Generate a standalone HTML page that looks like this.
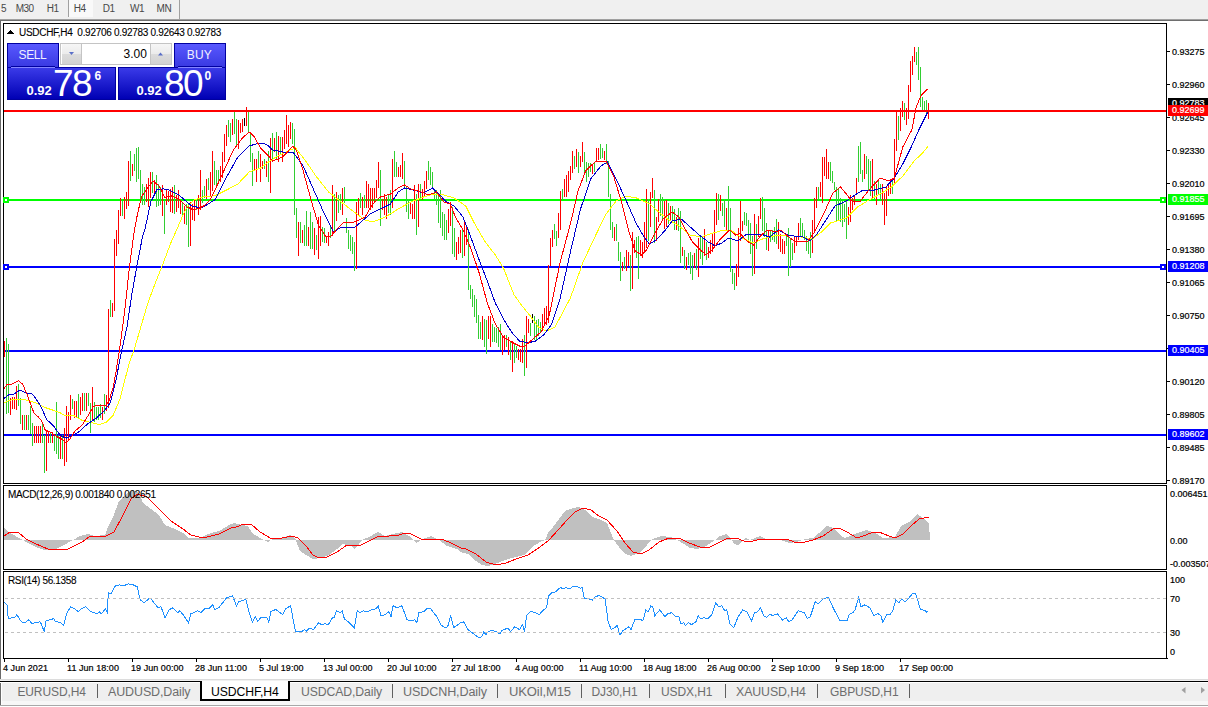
<!DOCTYPE html>
<html><head><meta charset="utf-8">
<style>
*{margin:0;padding:0;box-sizing:border-box}
html,body{width:1208px;height:707px;overflow:hidden;background:#fff;font-family:"Liberation Sans",sans-serif}
.a{position:absolute;white-space:nowrap}
#tb{left:0;top:0;width:1208px;height:19px;background:#f0f0f0}
.tbt{font-size:10px;color:#484848;top:2.6px;line-height:11px;letter-spacing:-0.5px}
.ax{font-size:9px;letter-spacing:0px;color:#000;left:1172px;line-height:10px;-webkit-text-stroke:0.2px #000}
.lb{left:1168px;width:40px;height:11px;color:#fff;font-size:9px;letter-spacing:0px;line-height:11px;padding-left:4px;-webkit-text-stroke:0.2px #fff}
.tl{font-size:9px;letter-spacing:0.05px;color:#000;top:663px;line-height:10px;-webkit-text-stroke:0.2px #000}
.tab{font-size:12px;color:#6d6d6d;top:686px;line-height:13px;letter-spacing:-0.1px}
.sep{top:684px;width:1px;height:14px;background:#606060}
</style></head><body>
<div class="a" id="tb"></div>
<div class="a" style="left:68px;top:0;width:25px;height:17px;background:#f9f9f9;border-left:1px solid #a0a0a0"></div>
<div class="a" style="left:179px;top:0;width:1px;height:19px;background:#a0a0a0"></div>
<div class="a" style="left:0;top:19px;width:1208px;height:1px;background:#a0a0a0"></div>
<div class="a" style="left:0;top:20px;width:1208px;height:1px;background:#6e6e6e"></div>
<div class="a tbt" style="left:1px">5</div>
<div class="a tbt" style="left:15.7px">M30</div>
<div class="a tbt" style="left:46.8px">H1</div>
<div class="a tbt" style="left:73.7px">H4</div>
<div class="a tbt" style="left:102.8px">D1</div>
<div class="a tbt" style="left:130.1px">W1</div>
<div class="a tbt" style="left:156.6px">MN</div>

<div class="a" style="left:0;top:21px;width:1px;height:658px;background:#6a6a6a"></div>

<!-- frames -->
<div class="a" style="left:3px;top:23px;width:1164px;height:461px;border:1px solid #000"></div>
<div class="a" style="left:3px;top:485px;width:1164px;height:85px;border:1px solid #000"></div>
<div class="a" style="left:3px;top:571px;width:1164px;height:88px;border:1px solid #000"></div>

<svg class="a" style="left:0;top:0" width="1208" height="707" viewBox="0 0 1208 707">
<g shape-rendering="crispEdges">
<rect x="4" y="199" width="1162" height="2" fill="#00ff00"/>
<rect x="4" y="266" width="1162" height="2" fill="#0000ff"/>
<rect x="4" y="350" width="1162" height="2" fill="#0000ff"/>
<rect x="4" y="434" width="1162" height="2" fill="#0000ff"/>
<path d="M4.5 341V357M10.5 398V415M12.5 397V409M14.5 397V409M16.5 386V410M22.5 415V430M26.5 415V430M34.5 426V443M36.5 426V443M38.5 426V443M40.5 426V443M46.5 431V471M48.5 432V443M52.5 432V443M60.5 435V459M64.5 428V466M66.5 406V462M68.5 412V440M70.5 395V420M74.5 401V418M76.5 401V418M80.5 397V415M82.5 393V411M86.5 393V411M92.5 387V420M102.5 407V420M106.5 395V411M108.5 309V408M112.5 303V317M114.5 239V311M116.5 230V256M118.5 210V244M120.5 198V216M124.5 197V219M126.5 192V209M128.5 161V206M132.5 164V176M146.5 184V202M148.5 178V207M150.5 172V198M154.5 180V195M162.5 185V216M166.5 189V205M168.5 191V202M170.5 189V212M172.5 187V213M176.5 195V212M178.5 190V208M180.5 200V214M184.5 206V224M190.5 202V246M192.5 204V220M194.5 200V221M198.5 195V215M200.5 170V210M206.5 179V199M210.5 172V196M212.5 151V191M220.5 166V182M222.5 152V178M224.5 134V162M226.5 125V146M232.5 119V135M238.5 120V149M240.5 123V133M242.5 119V132M246.5 107V126M254.5 159V171M256.5 159V182M260.5 154V182M262.5 161V169M266.5 161V177M270.5 138V193M274.5 138V152M278.5 136V162M282.5 137V162M284.5 130V149M286.5 115V144M288.5 125V147M290.5 122V139M298.5 222V256M302.5 230V243M308.5 227V246M314.5 228V255M318.5 217V259M320.5 216V246M326.5 237V243M328.5 232V246M332.5 185V236M336.5 192V221M342.5 188V215M356.5 202V269M358.5 198V215M362.5 197V215M366.5 181V208M368.5 184V208M370.5 188V210M372.5 188V208M374.5 188V203M376.5 180V198M378.5 162V188M382.5 199V210M384.5 194V215M386.5 197V219M392.5 159V208M398.5 167V177M400.5 165V177M402.5 153V179M410.5 202V214M412.5 204V219M414.5 185V219M418.5 184V227M422.5 189V200M424.5 181V196M426.5 171V189M448.5 209V233M450.5 202V226M456.5 242V260M458.5 237V254M460.5 230V253M464.5 220V256M466.5 225V245M482.5 316V340M488.5 316V339M490.5 316V347M502.5 335V355M504.5 335V350M508.5 337V355M512.5 341V372M518.5 349V360M520.5 349V362M522.5 339V363M526.5 316V368M528.5 319V333M542.5 314V331M544.5 308V325M546.5 306V325M548.5 265V323M550.5 238V266M552.5 230V247M558.5 213V238M560.5 191V230M564.5 179V197M566.5 175V197M568.5 171V192M570.5 166V180M572.5 151V173M576.5 149V167M580.5 156V167M582.5 142V162M592.5 165V174M596.5 148V162M598.5 148V160M604.5 151V160M614.5 227V241M622.5 262V271M626.5 250V271M628.5 252V266M632.5 232V289M634.5 240V253M640.5 240V256M642.5 242V258M644.5 222V251M646.5 189V248M650.5 192V227M652.5 178V198M656.5 217V241M658.5 199V222M664.5 201V229M666.5 200V227M670.5 206V220M676.5 217V230M682.5 247V256M686.5 257V270M694.5 253V268M698.5 238V277M704.5 229V256M708.5 247V258M710.5 240V254M712.5 233V252M714.5 210V245M716.5 193V225M720.5 195V211M726.5 208V231M736.5 264V286M738.5 228V277M740.5 201V241M742.5 221V231M754.5 214V274M758.5 216V237M760.5 198V219M768.5 230V251M778.5 222V249M780.5 234V252M782.5 239V254M784.5 241V254M794.5 236V253M796.5 236V246M798.5 223V240M812.5 220V253M814.5 198V231M816.5 187V208M820.5 182V197M822.5 157V203M824.5 157V176M826.5 149V179M828.5 162V179M848.5 207V225M850.5 195V222M852.5 198V210M854.5 195V205M856.5 178V194M864.5 154V179M872.5 159V199M876.5 184V205M882.5 184V205M884.5 193V225M886.5 187V216M888.5 184V196M890.5 181V194M894.5 139V185M896.5 111V151M900.5 108V131M902.5 101V117M906.5 108V125M908.5 85V119M910.5 61V92M912.5 56V75M914.5 47V62M928.5 103V119" stroke="#ff0000" stroke-width="1" fill="none"/>
<path d="M6.5 338V414M8.5 344V413M18.5 384V406M20.5 398V424M24.5 415V430M28.5 415V430M30.5 406V434M32.5 423V446M42.5 424V443M44.5 435V473M50.5 432V443M54.5 435V451M56.5 402V454M58.5 435V459M62.5 435V459M72.5 399V409M78.5 394V418M84.5 393V411M88.5 393V406M90.5 403V433M94.5 402V422M96.5 407V420M98.5 407V420M100.5 404V418M104.5 394V414M110.5 300V317M122.5 201V216M130.5 151V181M134.5 154V171M136.5 148V182M138.5 147V179M140.5 170V203M142.5 184V205M144.5 187V205M152.5 172V193M156.5 175V207M158.5 184V206M160.5 187V205M164.5 201V234M174.5 185V214M182.5 202V217M186.5 204V225M188.5 204V247M196.5 200V210M202.5 190V203M204.5 186V198M208.5 178V190M214.5 161V185M216.5 170V185M218.5 170V182M228.5 120V137M230.5 123V142M234.5 110V134M236.5 119V146M248.5 110V133M250.5 132V162M252.5 153V186M258.5 151V169M264.5 159V169M268.5 151V182M272.5 133V162M276.5 132V160M280.5 137V154M292.5 123V144M294.5 129V215M296.5 208V238M300.5 222V243M304.5 225V246M306.5 211V246M310.5 212V249M312.5 222V249M316.5 235V250M322.5 227V242M324.5 228V243M330.5 225V238M334.5 194V231M338.5 195V213M340.5 194V210M344.5 187V203M346.5 218V233M348.5 230V249M350.5 235V251M352.5 237V254M354.5 242V271M360.5 193V208M364.5 195V208M380.5 170V226M388.5 194V213M390.5 190V215M394.5 151V177M396.5 162V177M404.5 161V188M406.5 187V212M408.5 199V219M416.5 194V235M420.5 184V198M428.5 161V180M430.5 167V185M432.5 172V188M434.5 189V200M436.5 190V205M438.5 194V223M440.5 190V228M442.5 212V236M444.5 214V240M446.5 220V240M452.5 207V254M454.5 228V257M462.5 228V258M468.5 229V290M470.5 285V299M472.5 289V307M474.5 295V317M476.5 299V323M478.5 315V339M480.5 322V339M484.5 319V347M486.5 320V354M492.5 324V342M494.5 327V342M496.5 328V343M498.5 327V347M500.5 324V350M506.5 335V347M510.5 341V360M514.5 343V363M516.5 346V358M524.5 335V376M530.5 323V336M534.5 316V340M536.5 320V340M538.5 319V336M540.5 322V333M554.5 224V239M556.5 231V246M562.5 189V200M574.5 156V169M578.5 152V173M584.5 152V172M586.5 162V182M588.5 163V177M590.5 163V172M594.5 162V172M600.5 144V159M602.5 148V158M606.5 144V164M608.5 161V197M610.5 194V230M612.5 222V238M616.5 224V241M618.5 242V261M620.5 252V281M624.5 257V269M630.5 255V291M636.5 237V258M638.5 236V279M648.5 199V241M654.5 190V243M660.5 194V216M662.5 197V220M668.5 203V224M672.5 206V220M674.5 209V230M678.5 208V231M680.5 211V263M684.5 250V269M688.5 253V265M690.5 252V274M692.5 255V280M696.5 249V270M700.5 235V259M702.5 237V265M706.5 242V260M718.5 194V220M722.5 203V216M724.5 199V227M728.5 186V231M730.5 208V272M732.5 269V284M734.5 273V290M744.5 212V225M746.5 213V226M748.5 220V240M750.5 223V254M752.5 236V276M756.5 224V249M762.5 197V231M764.5 208V237M766.5 223V250M770.5 230V242M772.5 230V240M774.5 227V242M776.5 219V244M786.5 236V246M788.5 228V276M790.5 239V267M792.5 243V260M800.5 218V237M802.5 223V237M804.5 230V240M806.5 236V251M808.5 239V254M810.5 232V258M818.5 187V199M830.5 162V181M832.5 171V183M834.5 182V190M836.5 187V221M838.5 189V221M840.5 198V222M842.5 201V227M844.5 204V222M846.5 201V239M858.5 146V182M860.5 142V174M862.5 170V182M866.5 156V174M868.5 159V191M870.5 161V196M874.5 181V199M878.5 181V194M880.5 184V199M892.5 181V194M898.5 116V140M904.5 103V120M916.5 52V65M918.5 47V80M920.5 67V107M922.5 97V111M924.5 101V112M926.5 100V113" stroke="#32cd32" stroke-width="1" fill="none"/>
<path d="M244.5 118V126M532.5 314V323" stroke="#000000" stroke-width="1" fill="none"/>
<polyline points="4.2,402.6 11.3,399.8 21.2,399.1 28.3,400.5 36.8,403.3 45.3,407.6 53.7,410.4 59.4,412.5 65.1,415.4 73.5,415.4 82.0,420.3 90.5,422.4 99.0,424.6 106.1,422.4 113.2,415.4 120.2,398.4 124.5,381.4 129.0,364.0 134.2,349.4 141.7,324.0 148.0,302.7 153.9,286.7 161.8,266.9 170.7,243.2 178.6,225.4 184.5,211.5 188.5,205.6 194.4,199.7 204.3,196.7 215.0,195.7 226.6,190.0 237.9,184.0 249.2,172.0 260.5,168.0 270.0,161.0 277.7,156.0 290.4,150.0 295.5,148.0 305.7,161.0 315.9,176.0 328.6,192.0 341.3,202.0 354.0,212.0 365.0,220.0 372.7,222.0 385.4,217.0 398.2,209.0 410.9,202.0 423.6,197.0 433.8,194.0 444.0,195.0 454.1,198.0 465.8,206.0 473.8,222.0 484.6,241.0 495.3,255.0 503.4,268.0 514.1,295.0 522.2,306.0 530.3,316.0 538.3,327.0 546.4,331.0 555.0,327.0 570.4,298.0 583.1,262.0 595.8,235.0 606.0,214.0 616.2,201.0 626.3,196.0 636.5,198.0 650.0,204.0 656.3,210.0 667.6,219.0 679.0,226.0 690.2,235.0 701.6,237.0 712.9,233.0 724.2,230.0 731.0,230.0 740.0,237.0 753.6,243.0 762.6,239.0 774.0,236.0 787.5,235.0 801.1,237.0 812.4,239.0 821.4,232.0 830.5,223.0 840.0,220.0 846.3,218.0 857.6,207.0 868.9,200.0 880.2,194.0 891.5,187.0 902.8,176.0 914.1,161.0 922.6,153.0 928.2,146.0" fill="none" stroke="#ffff00" stroke-width="1"/>
<polyline points="4.2,398.4 8.5,394.9 14.1,394.1 19.8,390.0 25.5,392.7 32.5,394.1 38.2,402.0 42.4,409.7 46.7,419.6 53.7,426.0 58.0,432.3 62.2,436.6 66.5,438.0 72.1,435.9 79.2,431.6 87.7,423.8 96.2,418.2 104.7,410.4 110.3,402.6 116.0,380.0 121.5,351.5 126.8,328.0 131.8,294.6 137.1,264.9 142.4,237.3 145.0,229.0 150.9,201.6 156.9,189.8 162.8,188.8 168.7,189.8 178.6,194.7 186.5,201.6 192.5,206.6 202.3,207.6 210.3,202.6 215.0,199.7 226.6,177.0 237.9,157.0 249.2,146.0 256.0,144.0 262.8,143.0 267.3,145.0 272.6,150.0 282.8,152.0 293.0,152.0 303.2,166.0 313.3,189.0 323.5,212.0 333.7,232.0 341.3,227.0 354.0,228.0 370.2,214.0 380.4,209.0 390.5,204.0 398.2,192.0 404.5,188.0 413.4,190.0 423.6,193.0 432.5,188.0 438.9,194.0 446.5,202.0 454.1,206.0 463.0,217.0 471.1,238.0 479.2,260.0 487.3,281.0 495.3,303.0 503.4,319.0 511.5,332.0 519.5,341.0 527.6,343.0 535.6,341.0 543.7,335.0 551.8,324.0 560.2,298.0 570.4,252.0 580.5,209.0 590.7,179.0 600.9,166.0 607.3,162.0 616.2,179.0 626.3,201.0 636.5,224.0 644.1,237.0 649.5,244.0 656.3,240.0 665.4,230.0 672.1,221.0 681.2,219.0 690.2,227.0 699.3,235.0 708.3,242.0 715.1,246.0 721.9,243.0 728.7,238.0 737.8,241.0 746.8,234.0 760.4,234.0 769.4,237.0 778.5,230.0 787.5,235.0 794.3,236.0 801.1,236.0 810.1,241.0 816.9,234.0 826.0,220.0 835.0,206.0 846.3,201.0 854.8,195.0 863.2,190.0 874.5,190.0 885.8,187.0 894.3,178.0 902.8,164.0 911.3,147.0 918.8,130.0 927.7,112.0" fill="none" stroke="#0000cd" stroke-width="1"/>
<polyline points="4.2,388.5 7.1,384.2 11.3,384.2 18.4,380.7 22.6,384.2 26.9,394.0 31.1,405.5 34.0,413.2 38.2,416.8 41.7,421.0 45.3,430.2 50.9,432.3 56.6,436.6 62.2,439.4 65.8,443.0 69.3,440.0 75.0,431.0 82.0,425.3 89.1,414.0 93.4,406.2 99.0,405.5 106.0,405.5 109.0,401.2 113.2,387.0 116.2,370.6 120.5,343.0 124.7,311.0 129.7,264.9 134.0,233.0 137.1,216.0 141.4,197.0 145.0,191.8 152.9,180.9 158.8,185.8 164.8,197.7 170.7,195.7 178.6,198.7 186.5,206.6 192.5,209.5 198.4,208.6 204.3,205.6 210.3,199.7 222.0,175.0 233.3,150.0 242.4,138.0 249.2,132.0 253.7,136.0 260.5,148.0 269.5,157.0 272.6,161.0 282.8,157.0 293.0,146.0 296.8,151.0 303.2,171.0 310.8,199.0 318.4,225.0 326.0,237.0 331.2,236.0 336.2,230.0 343.9,222.0 351.5,223.0 359.1,220.0 365.1,217.0 372.7,204.0 380.4,197.0 390.5,194.0 398.2,188.0 404.5,185.0 410.9,189.0 421.1,192.0 428.7,195.0 436.3,192.0 444.0,202.0 450.3,204.0 455.4,217.0 463.0,230.0 471.1,249.0 479.2,273.0 487.3,303.0 495.3,324.0 503.4,337.0 511.5,342.0 519.5,346.0 524.9,346.0 533.0,339.0 541.0,332.0 549.1,316.0 560.2,262.0 570.4,224.0 578.0,191.0 585.6,171.0 595.8,161.0 606.0,161.0 613.6,176.0 621.2,201.0 628.9,232.0 635.2,251.0 641.6,255.0 646.7,250.0 654.0,235.0 663.1,219.0 672.1,212.0 678.9,217.0 685.7,230.0 692.5,242.0 699.3,249.0 706.1,255.0 712.9,249.0 719.7,240.0 726.4,233.0 729.8,230.0 735.5,235.0 740.0,233.0 746.8,241.0 753.6,245.0 760.4,236.0 767.1,230.0 776.2,232.0 780.7,230.0 787.5,236.0 794.3,241.0 801.1,241.0 807.9,241.0 814.7,232.0 823.7,214.0 832.8,193.0 840.6,187.0 852.0,201.0 860.4,201.0 868.9,190.0 880.2,178.0 888.7,181.0 894.3,178.0 902.8,147.0 911.8,130.0 916.2,107.0 921.3,95.0 927.7,89.0" fill="none" stroke="#ff0000" stroke-width="1"/>
</g>
<g shape-rendering="crispEdges">
<polygon points="4.0,540.0 4.0,527.0 8.0,532.0 12.0,534.0 21.0,539.0 28.0,543.0 36.0,547.0 44.0,550.0 56.0,549.0 71.0,541.2 80.0,536.0 88.0,534.0 95.0,536.0 105.0,535.0 108.0,527.0 113.0,517.0 119.0,501.0 127.0,493.0 133.0,490.0 139.0,493.0 143.0,503.0 151.0,509.0 159.0,515.0 165.0,525.0 175.0,529.0 183.0,533.0 189.0,538.0 199.0,538.0 211.0,533.0 219.0,531.0 231.0,524.0 234.0,523.0 242.0,525.0 248.0,526.0 252.0,533.0 260.0,538.0 268.0,542.0 274.0,538.0 282.0,538.0 290.0,535.0 295.0,538.0 300.0,551.0 306.0,555.0 313.0,559.0 321.0,558.0 329.0,555.0 337.0,549.0 343.0,544.0 351.0,546.0 354.0,549.0 359.0,544.0 363.0,539.0 369.0,537.0 378.0,532.0 385.0,536.0 393.0,534.0 402.0,532.0 409.0,536.0 416.0,543.0 423.0,539.0 431.0,536.0 439.0,540.0 447.0,546.0 457.0,549.0 460.0,552.0 468.0,554.0 476.0,561.0 482.0,565.0 488.0,566.0 500.0,562.0 512.0,558.0 524.0,555.0 532.0,547.0 540.0,542.0 545.0,540.0 549.0,531.0 553.0,527.0 559.0,519.0 565.0,511.0 573.0,508.0 579.0,507.0 585.0,510.0 593.0,517.0 601.0,520.0 607.0,523.0 611.0,533.0 614.0,540.0 619.0,547.0 625.0,554.0 631.0,556.0 639.0,553.0 647.0,545.0 652.0,539.0 661.0,536.0 671.0,537.0 679.0,541.0 687.0,546.0 690.0,548.0 698.0,549.0 706.0,546.0 715.0,540.0 720.0,536.0 726.0,534.0 730.0,537.0 734.0,544.0 738.0,545.0 742.0,541.0 746.0,538.0 750.0,540.0 760.0,536.0 766.0,539.0 781.0,540.0 789.0,543.0 797.0,542.0 805.0,539.0 813.0,538.0 819.0,533.0 827.0,526.0 833.0,528.0 841.0,536.0 845.0,538.0 857.0,533.0 867.0,530.0 877.0,534.0 883.0,538.0 895.0,537.0 901.0,526.0 909.0,522.0 917.0,514.0 923.0,518.0 929.0,524.0 930.0,540.0" fill="#c0c0c0"/>
<polyline points="4.0,536.0 10.0,532.0 18.0,532.0 26.0,539.0 36.0,544.0 48.0,549.0 68.0,549.0 82.0,542.0 89.0,537.0 95.0,536.0 106.0,536.0 114.0,532.0 123.0,515.0 131.0,499.0 137.0,494.0 147.0,497.0 159.0,509.0 171.0,521.0 183.0,529.0 191.0,535.0 203.0,538.0 219.0,534.0 231.0,528.0 236.0,527.0 244.0,524.0 251.0,524.0 260.0,532.0 272.0,539.0 282.0,538.0 292.0,536.0 298.0,538.0 306.0,546.0 313.0,555.0 319.0,558.0 327.0,557.0 337.0,552.0 347.0,545.0 355.0,545.0 361.0,545.0 369.0,541.0 379.0,536.0 389.0,536.0 399.0,535.0 405.0,533.0 411.0,534.0 421.0,539.0 429.0,539.0 441.0,539.0 449.0,542.0 461.0,548.0 466.0,549.0 476.0,554.0 486.0,562.0 496.0,565.0 506.0,563.0 516.0,559.0 528.0,555.0 540.0,547.0 549.0,540.0 559.0,529.0 567.0,520.0 575.0,512.0 583.0,508.0 591.0,510.0 599.0,516.0 607.0,520.0 617.0,531.0 625.0,543.0 633.0,552.0 641.0,554.0 649.0,550.0 659.0,542.0 669.0,538.0 679.0,538.0 689.0,543.0 700.0,547.0 710.0,547.0 720.0,542.0 728.0,538.0 736.0,538.0 744.0,541.0 750.0,542.0 760.0,539.0 770.0,539.0 781.0,539.0 789.0,540.0 797.0,543.0 805.0,542.0 813.0,540.0 823.0,536.0 833.0,529.0 839.0,528.0 847.0,532.0 857.0,538.0 863.0,536.0 871.0,533.0 879.0,532.0 889.0,536.0 895.0,538.0 903.0,534.0 911.0,526.0 919.0,519.0 929.0,517.0" fill="none" stroke="#ff0000" stroke-width="1"/>
</g>
<g shape-rendering="crispEdges">
<polyline points="4.0,601.8 7.0,604.8 8.3,618.7 11.9,617.7 14.9,617.3 16.9,614.7 19.9,619.7 22.9,622.7 25.8,622.1 28.8,619.7 31.8,623.3 35.8,622.7 39.8,621.7 41.7,624.7 44.1,631.6 46.1,620.7 49.7,619.7 53.7,618.7 55.7,621.7 58.6,622.1 60.6,622.7 63.6,625.7 66.6,613.7 70.6,606.8 74.6,608.8 78.5,611.7 81.5,608.8 85.5,606.8 89.5,610.8 93.4,612.7 97.4,613.7 99.4,611.7 101.4,613.7 105.4,608.8 107.4,612.7 108.3,592.9 111.3,593.5 115.3,585.9 119.3,584.9 123.3,585.9 128.2,583.9 133.2,584.9 137.2,586.9 140.2,599.8 144.1,602.8 150.1,597.8 154.1,602.8 158.1,607.8 161.0,606.8 165.0,617.7 169.0,609.8 173.0,607.8 177.9,612.7 179.9,610.8 183.9,615.7 188.5,622.7 190.9,613.7 193.8,612.7 197.8,610.8 200.8,612.7 204.8,608.8 208.7,608.8 212.7,604.8 214.7,609.8 218.7,607.8 226.6,597.8 232.6,595.8 236.4,605.8 238.9,601.8 245.9,599.4 248.9,611.7 252.3,622.1 255.4,616.7 257.8,621.3 260.8,617.7 266.8,617.7 268.8,622.1 270.8,611.7 275.7,609.4 282.7,614.7 285.7,608.8 290.6,605.8 293.6,621.7 295.6,632.0 301.6,631.6 304.6,629.6 306.5,631.2 309.5,628.1 313.5,629.6 318.5,622.7 321.5,624.7 325.4,623.7 328.4,624.7 332.4,617.7 334.4,617.3 336.4,610.8 340.3,612.7 342.3,610.8 344.3,618.7 349.3,622.7 354.3,627.7 357.2,610.8 360.2,612.7 363.2,610.8 367.2,611.7 371.2,609.8 376.1,608.8 378.1,605.8 381.1,615.7 385.1,614.7 389.0,611.7 391.0,616.7 393.0,605.8 397.0,607.8 402.0,605.8 406.9,619.7 410.9,620.7 414.9,619.7 416.9,622.7 418.9,612.7 423.8,611.7 426.8,608.8 430.8,608.8 436.8,616.7 440.7,624.7 444.7,627.7 447.7,626.7 450.7,615.3 453.7,627.7 460.6,622.7 463.6,621.7 468.0,629.6 471.9,632.6 478.9,637.6 481.9,636.6 483.9,631.6 485.8,634.6 488.8,631.2 492.8,630.6 496.8,631.6 499.8,634.0 501.7,630.6 507.7,628.1 510.7,631.6 514.7,626.7 519.6,629.6 522.6,624.7 524.6,631.6 526.6,615.7 530.6,611.4 535.5,612.7 539.5,614.7 541.5,611.7 546.5,607.8 548.5,595.8 551.5,592.9 555.4,591.9 560.4,587.5 563.4,588.9 565.4,587.5 569.3,588.9 573.3,586.3 577.3,586.3 580.3,588.3 582.3,587.5 584.3,598.8 588.2,598.8 592.2,600.2 595.2,596.8 599.2,595.4 603.1,597.8 605.1,598.8 608.1,621.7 611.1,629.2 615.1,627.7 617.1,625.3 620.0,635.2 623.0,630.6 629.0,626.7 631.0,629.6 635.0,619.3 640.9,619.7 642.9,620.7 645.9,609.8 647.9,612.1 650.9,605.8 652.8,606.8 654.8,615.7 659.8,609.8 664.8,616.7 667.8,613.7 671.7,612.7 675.7,616.7 678.7,616.1 680.7,623.7 683.7,622.7 685.6,625.7 688.6,622.7 691.6,624.7 696.0,621.7 698.0,615.7 700.9,618.7 703.9,617.7 707.9,618.7 711.9,614.7 715.8,602.8 718.8,606.8 721.8,605.8 724.8,610.8 726.8,609.8 729.8,623.7 733.7,627.7 737.7,617.7 742.7,609.8 746.7,611.7 751.6,620.7 754.6,612.7 757.6,611.7 760.6,607.8 763.6,615.7 766.5,617.3 769.5,614.7 773.5,615.3 777.5,613.7 782.4,620.1 786.4,617.7 788.4,621.3 791.4,620.7 798.3,610.8 804.3,612.7 807.3,618.7 810.3,616.7 815.2,601.8 818.2,603.8 823.2,598.8 828.2,597.4 835.1,611.7 840.1,620.7 847.1,620.7 849.0,614.7 853.0,612.7 855.0,609.8 858.6,597.8 861.0,606.8 865.0,604.8 869.9,607.8 873.9,615.7 877.9,613.7 880.9,615.7 882.8,622.1 886.8,614.7 889.8,614.7 892.8,610.8 895.8,599.8 898.7,602.8 901.7,598.8 904.7,601.8 907.7,599.4 912.7,593.5 915.6,593.5 920.6,609.8 924.6,610.2 926.6,612.1 928.6,610.8" fill="none" stroke="#1e90ff" stroke-width="1"/>
</g>
<g shape-rendering="crispEdges">
<rect x="4" y="110" width="1162" height="2" fill="#ff0000"/>
<rect x="3" y="197" width="6" height="6" fill="#00ff00"/><rect x="5" y="199" width="2" height="2" fill="#fff"/>
<rect x="1160" y="197" width="6" height="6" fill="#00ff00"/><rect x="1162" y="199" width="2" height="2" fill="#fff"/>
<rect x="3" y="264" width="6" height="6" fill="#0000ff"/><rect x="5" y="266" width="2" height="2" fill="#fff"/>
<rect x="1160" y="264" width="6" height="6" fill="#0000ff"/><rect x="1162" y="266" width="2" height="2" fill="#fff"/>
<path d="M5 598.5H1166M5 632.5H1166" stroke="#c0c0c0" stroke-width="1" stroke-dasharray="3 3"/>
<path d="M1167 51.5h3M1167 84.5h3M1167 117.5h3M1167 150.5h3M1167 183.5h3M1167 216.5h3M1167 249.5h3M1167 282.5h3M1167 315.5h3M1167 348.5h3M1167 381.5h3M1167 414.5h3M1167 447.5h3M1167 480.5h3" stroke="#000" stroke-width="1"/>
<path d="M4.5 659v3M68.5 659v3M132.5 659v3M196.5 659v3M260.5 659v3M324.5 659v3M388.5 659v3M452.5 659v3M516.5 659v3M580.5 659v3M644.5 659v3M708.5 659v3M772.5 659v3M836.5 659v3M900.5 659v3M1167 658.5h1" stroke="#000" stroke-width="1"/>
<polygon points="7,34 14,34 10.5,29.5" fill="#000"/>
</g>
</svg>

<!-- header -->
<div class="a" style="left:19px;top:28px;font-size:10px;letter-spacing:-0.3px;line-height:10px;color:#000;-webkit-text-stroke:0.1px #000">USDCHF,H4&nbsp;&nbsp;0.92706 0.92783 0.92643 0.92783</div>

<!-- trade panel -->
<div class="a" style="left:7px;top:43px;width:52px;height:25px;background:linear-gradient(#5858ff,#3838e0);border:1px solid #0000a0;border-bottom:none"></div>
<div class="a" style="left:174px;top:43px;width:52px;height:25px;background:linear-gradient(#5858ff,#3838e0);border:1px solid #0000a0;border-bottom:none"></div>
<div class="a" style="left:7px;top:67px;width:109px;height:33px;background:linear-gradient(#3a3ae8,#0000b4);border:1px solid #0000a0"></div>
<div class="a" style="left:118px;top:67px;width:108px;height:33px;background:linear-gradient(#3a3ae8,#0000b4);border:1px solid #0000a0"></div>
<div class="a" style="left:11px;top:66px;width:44px;height:1px;background:#0000a0"></div><div class="a" style="left:11px;top:67px;width:44px;height:1px;background:#8484ff"></div>
<div class="a" style="left:178px;top:66px;width:44px;height:1px;background:#0000a0"></div><div class="a" style="left:178px;top:67px;width:44px;height:1px;background:#8484ff"></div>
<div class="a" style="left:60px;top:43px;width:112px;height:22px;background:#fff;border:1px solid #c4c4c4"></div>
<div class="a" style="left:62px;top:44px;width:20px;height:20px;background:linear-gradient(#f6f6f6,#ebebeb 50%,#dcdcdc 50%,#d2d2d2);border-right:1px solid #c4c4c4"></div>
<div class="a" style="left:150px;top:44px;width:21px;height:20px;background:linear-gradient(#f6f6f6,#ebebeb 50%,#dcdcdc 50%,#d2d2d2);border-left:1px solid #c4c4c4"></div>
<svg class="a" style="left:0;top:0" width="240" height="110"><polygon points="69,52 74,52 71.5,55" fill="#5a6fc8"/><polygon points="158,55.5 163,55.5 160.5,52.5" fill="#5a6fc8"/></svg>
<div class="a" style="left:123.5px;top:48px;font-size:12px;line-height:12px;color:#000">3.00</div>
<div class="a" style="left:18.6px;top:49px;font-size:12px;letter-spacing:-0.4px;line-height:12px;color:#f0f0ff">SELL</div>
<div class="a" style="left:186.8px;top:49px;font-size:12px;letter-spacing:0.2px;line-height:12px;color:#f0f0ff">BUY</div>
<div class="a" style="left:26.5px;top:85px;font-size:13px;font-weight:bold;line-height:12px;color:#fff">0.92</div>
<div class="a" style="left:136.5px;top:85px;font-size:13px;font-weight:bold;line-height:12px;color:#fff">0.92</div>
<div class="a" style="left:53px;top:65px;font-size:37px;line-height:37px;letter-spacing:-1.6px;color:#fff">78</div>
<div class="a" style="left:164px;top:65px;font-size:37px;line-height:37px;letter-spacing:-1.6px;color:#fff">80</div>
<div class="a" style="left:94.5px;top:71px;font-size:12px;font-weight:bold;line-height:11px;color:#fff">6</div>
<div class="a" style="left:204.5px;top:71px;font-size:12px;font-weight:bold;line-height:11px;color:#fff">0</div>

<!-- price axis -->
<div class="a ax" style="top:47px">0.93275</div>
<div class="a ax" style="top:80px">0.92960</div>
<div class="a ax" style="top:113px">0.92645</div>
<div class="a ax" style="top:146px">0.92330</div>
<div class="a ax" style="top:179px">0.92010</div>
<div class="a ax" style="top:212px">0.91695</div>
<div class="a ax" style="top:245px">0.91380</div>
<div class="a ax" style="top:278px">0.91065</div>
<div class="a ax" style="top:311px">0.90750</div>
<div class="a ax" style="top:377px">0.90120</div>
<div class="a ax" style="top:410px">0.89805</div>
<div class="a ax" style="top:443px">0.89485</div>
<div class="a ax" style="top:476px">0.89170</div>
<div class="a lb" style="top:98px;background:#000">0.92783</div>
<div class="a lb" style="top:105px;background:#ff0000">0.92699</div>
<div class="a lb" style="top:194px;background:#00ff00">0.91855</div>
<div class="a lb" style="top:261px;background:#0000ff">0.91208</div>
<div class="a lb" style="top:345px;background:#0000ff">0.90405</div>
<div class="a lb" style="top:429px;background:#0000ff">0.89602</div>

<!-- MACD / RSI labels -->
<div class="a" style="left:8px;top:490px;font-size:10px;letter-spacing:-0.35px;line-height:10px;color:#000;-webkit-text-stroke:0.1px #000">MACD(12,26,9) 0.001840 0.002651</div>
<div class="a ax" style="top:489px;left:1170px">0.006451</div>
<div class="a ax" style="top:536px;left:1170px">0.00</div>
<div class="a ax" style="top:559px;left:1170px">-0.003507</div>
<div class="a" style="left:8px;top:576px;font-size:10px;letter-spacing:-0.35px;line-height:10px;color:#000;-webkit-text-stroke:0.1px #000">RSI(14) 56.1358</div>
<div class="a ax" style="top:575px;left:1170px">100</div>
<div class="a ax" style="top:594px;left:1170px">70</div>
<div class="a ax" style="top:628px;left:1170px">30</div>
<div class="a ax" style="top:647px;left:1170px">0</div>

<!-- time labels -->
<div class="a tl" style="left:3px">4 Jun 2021</div>
<div class="a tl" style="left:67px">11 Jun 18:00</div>
<div class="a tl" style="left:131px">19 Jun 00:00</div>
<div class="a tl" style="left:195px">28 Jun 11:00</div>
<div class="a tl" style="left:259px">5 Jul 19:00</div>
<div class="a tl" style="left:323px">13 Jul 00:00</div>
<div class="a tl" style="left:387px">20 Jul 10:00</div>
<div class="a tl" style="left:451px">27 Jul 18:00</div>
<div class="a tl" style="left:515px">4 Aug 00:00</div>
<div class="a tl" style="left:579px">11 Aug 10:00</div>
<div class="a tl" style="left:643px">18 Aug 18:00</div>
<div class="a tl" style="left:707px">26 Aug 00:00</div>
<div class="a tl" style="left:771px">2 Sep 10:00</div>
<div class="a tl" style="left:835px">9 Sep 18:00</div>
<div class="a tl" style="left:899px">17 Sep 00:00</div>

<!-- bottom tabs -->
<div class="a" style="left:0;top:679px;width:1208px;height:1px;background:#dcdcdc"></div>
<div class="a" style="left:0;top:680px;width:1208px;height:1px;background:#f0f0f0"></div>
<div class="a" style="left:0;top:681px;width:1208px;height:1px;background:#000"></div>
<div class="a" style="left:0;top:682px;width:1208px;height:19px;background:#efefef"></div>
<div class="a" style="left:0;top:701px;width:1208px;height:4px;background:#f7f7f7"></div>
<div class="a" style="left:0;top:705px;width:1208px;height:1px;background:#a8a8a8"></div>
<div class="a" style="left:0;top:682px;width:1px;height:23px;background:#6a6a6a"></div><div class="a" style="left:1px;top:682px;width:1px;height:23px;background:#fff"></div><div class="a" style="left:0;top:682px;width:1208px;height:1px;background:#fff"></div>
<div class="a" style="left:200px;top:681px;width:90px;height:20px;background:#fff;border:2px solid #000;border-top:none"></div>
<div class="a tab" style="left:17.4px">EURUSD,H4</div>
<div class="a sep" style="left:97px"></div>
<div class="a tab" style="left:107.6px;transform:scaleX(1.038);transform-origin:0 0">AUDUSD,Daily</div>
<div class="a tab" style="left:211px;color:#000;transform:scaleX(1.02);transform-origin:0 0">USDCHF,H4</div>
<div class="a tab" style="left:300.5px;transform:scaleX(1.02);transform-origin:0 0">USDCAD,Daily</div>
<div class="a sep" style="left:392px"></div>
<div class="a tab" style="left:403px;transform:scaleX(1.047);transform-origin:0 0">USDCNH,Daily</div>
<div class="a sep" style="left:497px"></div>
<div class="a tab" style="left:508.5px;transform:scaleX(1.084);transform-origin:0 0">UKOil,M15</div>
<div class="a sep" style="left:581px"></div>
<div class="a tab" style="left:591.5px">DJ30,H1</div>
<div class="a sep" style="left:649px"></div>
<div class="a tab" style="left:661px">USDX,H1</div>
<div class="a sep" style="left:725px"></div>
<div class="a tab" style="left:736px;transform:scaleX(1.029);transform-origin:0 0">XAUUSD,H4</div>
<div class="a sep" style="left:817px"></div>
<div class="a tab" style="left:830px">GBPUSD,H1</div>
<div class="a sep" style="left:909px"></div>
<svg class="a" style="left:1170px;top:684px" width="38" height="14"><polygon points="15.5,3 11.5,6 15.5,9.5" fill="#a0a0a0"/><polygon points="31,3 35,6 31,9.5" fill="#a0a0a0"/></svg>
</body></html>
